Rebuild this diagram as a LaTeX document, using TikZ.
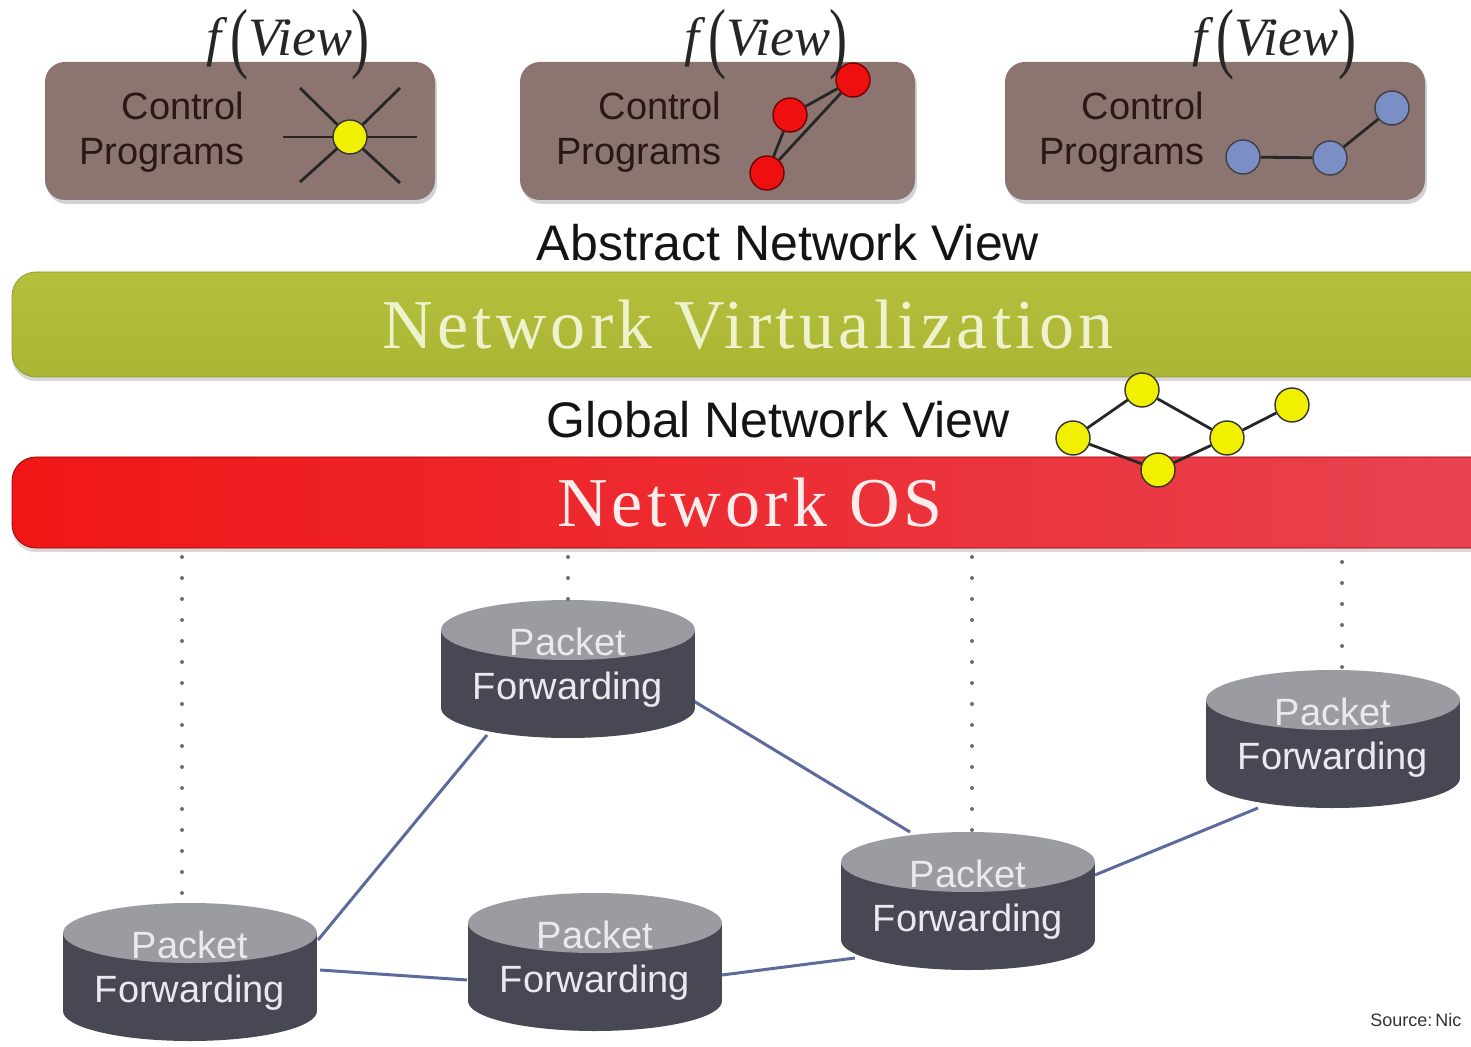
\documentclass[tikz,border=0pt]{standalone}
\usepackage{fontspec}
\setmainfont{Liberation Serif}
\newfontfamily\sansf{Liberation Sans}
\newfontfamily\barf[LetterSpace=6]{Liberation Serif}
\usetikzlibrary{shadows,calc}
\pgfdeclarelayer{bgfill}
\pgfdeclarelayer{background}
\pgfsetlayers{bgfill,background,main}
\definecolor{boxbrown}{RGB}{140,117,112}
\definecolor{boxtext}{RGB}{40,25,22}
\definecolor{vgreentop}{RGB}{180,192,60}
\definecolor{vgreenbot}{RGB}{170,182,52}
\definecolor{vtext}{RGB}{238,242,205}
\definecolor{osredL}{RGB}{240,22,22}
\definecolor{osredR}{RGB}{232,68,82}
\definecolor{ostext}{RGB}{252,236,236}
\definecolor{cylbody}{RGB}{72,72,84}
\definecolor{cyltop}{RGB}{155,155,162}
\definecolor{cyltext}{RGB}{234,234,238}
\definecolor{linkblue}{RGB}{92,106,156}
\definecolor{nodeyellow}{RGB}{240,240,0}
\definecolor{nodered}{RGB}{238,16,16}
\definecolor{nodeblue}{RGB}{124,142,198}
\definecolor{dotgray}{RGB}{110,110,110}
\tikzset{
  progbox/.style={rectangle, rounded corners=10pt, fill=boxbrown, minimum height=69pt, inner sep=0,
    drop shadow={shadow xshift=1pt, shadow yshift=-2pt, opacity=0.35}},
  ctext/.style={font=\sansf\fontsize{19}{22}\selectfont, text=boxtext, inner sep=0},
  fview/.style={font=\fontsize{27}{30}\selectfont, text=black!85, inner sep=0},
  vnode/.style={circle, minimum size=17pt, inner sep=0, draw=black!80, line width=0.7pt},
  gedge/.style={draw=black!85, line width=1.4pt},
  viewtext/.style={font=\sansf\fontsize{25}{28}\selectfont, text=black!92, inner sep=0},
  bartext/.style={inner sep=0, font=\barf\fontsize{35}{38}\selectfont},
  pftext/.style={font=\sansf\fontsize{19}{22}\selectfont, text=cyltext, inner sep=0},
  pfnode/.style={inner sep=0, minimum width=127pt, minimum height=69pt},
  link/.style={draw=linkblue, line width=1.5pt},
  dotline/.style={draw=dotgray, line width=2pt, line cap=round, dash pattern=on 0pt off 10.5pt},
}
\newcommand\fv{{\itshape f}\,\raisebox{-0.16em}{\scalebox{1}[1.45]{(}}{\itshape View}\raisebox{-0.16em}{\scalebox{1}[1.45]{)}}}
\newcommand\pfcyl[3]{%
  \node[pfnode] (#1) at (#2,#3+69) {};
  \fill[cylbody] (#2-127,#3+30) rectangle (#2+127,#3+108);
  \fill[cylbody] (#2,#3+108) ellipse [x radius=127, y radius=30];
  \fill[cyltop] (#2,#3+30) ellipse [x radius=127, y radius=30];
  \node[pftext, anchor=base] (#1p) at (#2,#3+55) {Packet};
  \node[pftext, anchor=base] (#1f) at (#2,#3+99) {Forwarding};
}
\begin{document}
\begin{tikzpicture}[x=0.5pt,y=-0.5pt]
\useasboundingbox (0,0) rectangle (1471,1047);
\clip (0,0) rectangle (1471,1047);
\begin{pgfonlayer}{bgfill}
\fill[white] (0,0) rectangle (1471,1047);
\end{pgfonlayer}

% control program boxes
\node[progbox, minimum width=195pt] (b1) at (240,131) {};
\node[progbox, minimum width=197.5pt] (b2) at (717.5,131) {};
\node[progbox, minimum width=210pt] (b3) at (1215,131) {};

\node[fview] (f1) at (288,45) {\fv};
\node[fview] (f2) at (766,45) {\fv};
\node[fview] (f3) at (1274,45) {\fv};

\node[ctext, anchor=base east] (t1a) at ($(b1.west)+(200,-11)$) {Control};
\node[ctext, anchor=base east] (t1b) at ($(b1.west)+(200,34)$) {Programs};
\node[ctext, anchor=base east] (t2a) at ($(b2.west)+(202,-11)$) {Control};
\node[ctext, anchor=base east] (t2b) at ($(b2.west)+(202,34)$) {Programs};
\node[ctext, anchor=base east] (t3a) at ($(b3.west)+(200,-11)$) {Control};
\node[ctext, anchor=base east] (t3b) at ($(b3.west)+(200,34)$) {Programs};

% star view
\coordinate (s0) at (350,137);
\coordinate (s1) at (300,88);
\coordinate (s2) at (400,183);
\coordinate (s3) at (400,88);
\coordinate (s4) at (300,182);
\coordinate (s5) at (283,137);
\coordinate (s6) at (417,137);
\draw[gedge] (s1) -- (s0) -- (s2);
\draw[gedge] (s3) -- (s0) -- (s4);
\draw[gedge] (s5) -- (s0) -- (s6);
\node[vnode, fill=nodeyellow] (s0b) at (s0) {};

% red view
\node[vnode, fill=nodered, draw=red!45!black] (r1) at (853,80) {};
\node[vnode, fill=nodered, draw=red!45!black] (r2) at (790,115) {};
\node[vnode, fill=nodered, draw=red!45!black] (r3) at (767,173) {};
\draw[gedge] (r1) -- (r2) -- (r3) -- (r1);

% blue view
\node[vnode, fill=nodeblue, draw=black!75] (u1) at (1392,108) {};
\node[vnode, fill=nodeblue, draw=black!75] (u2) at (1330,158) {};
\node[vnode, fill=nodeblue, draw=black!75] (u3) at (1243,157) {};
\draw[gedge] (u3) -- (u2) -- (u1);

% texts
\node[viewtext] (anv) at (788,243) {Abstract Network View};
\node[viewtext] (gnv) at (778,420) {Global Network View};

% bars
\node[rectangle, rounded corners=12pt, minimum width=754pt, minimum height=52.5pt, inner sep=0,
  top color=vgreentop, bottom color=vgreenbot, draw=vgreenbot!85!black, line width=0.4pt,
  drop shadow={shadow xshift=0pt, shadow yshift=-2pt, opacity=0.3}] (virt) at (766,324.5) {};
\node[bartext, text=vtext] (virtt) at (748,325) {Network Virtualization};

\node[rectangle, rounded corners=12pt, minimum width=754pt, minimum height=45.5pt, inner sep=0,
  left color=osredL, right color=osredR, draw=red!60!black, line width=0.4pt,
  drop shadow={shadow xshift=0pt, shadow yshift=-2pt, opacity=0.3}] (os) at (766,502.5) {};
\node[bartext, text=ostext] (ost) at (750,503) {Network OS};

% global view graph
\node[vnode, fill=nodeyellow] (g1) at (1142,390) {};
\node[vnode, fill=nodeyellow] (g2) at (1073,438) {};
\node[vnode, fill=nodeyellow] (g3) at (1158,470) {};
\node[vnode, fill=nodeyellow] (g4) at (1227,438) {};
\node[vnode, fill=nodeyellow] (g5) at (1292,405) {};
\draw[gedge] (g2) -- (g1) -- (g4) -- (g5);
\draw[gedge] (g2) -- (g3) -- (g4);

% forwarding elements
\pfcyl{c1}{190}{903}
\pfcyl{c2}{568}{600}
\pfcyl{c3}{595}{893}
\pfcyl{c4}{968}{832}
\pfcyl{c5}{1333}{670}

\begin{pgfonlayer}{background}
\draw[link] ($(c1.center)+(128,-32)$) -- ($(c2.center)+(-81,66)$);
\draw[link] ($(c1.center)+(130,-2)$) -- ($(c3.center)+(-128,18)$);
\draw[link] ($(c3.center)+(127,13)$) -- ($(c4.center)+(-113,57)$);
\draw[link] ($(c2.center)+(124,31)$) -- ($(c4.center)+(-58,-69)$);
\draw[link] ($(c4.center)+(127,-26)$) -- ($(c5.center)+(-75,69)$);
\end{pgfonlayer}

% dotted control links
\coordinate (d1) at (182,557);
\coordinate (d2) at (568,557);
\coordinate (d3) at (972,557);
\coordinate (d4) at (1342,562);
\draw[dotline] (d1) -- (d1 |- c1.north);
\draw[dotline] (d2) -- (d2 |- c2.north);
\draw[dotline] (d3) -- (d3 |- c4.north);
\draw[dotline] (d4) -- (d4 |- c5.north);

\node[anchor=base west, inner sep=0, font=\sansf\fontsize{9}{10}\selectfont, text=black!80] (src) at (1370,1026) {Source:\,Nic};
\end{tikzpicture}
\end{document}
